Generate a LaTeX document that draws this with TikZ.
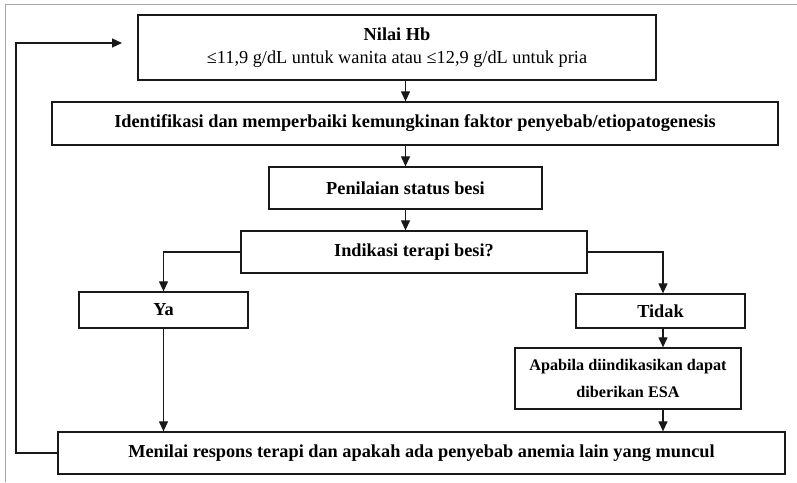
\documentclass[tikz,border=0pt]{standalone}
\usepackage{fontspec}
\setmainfont{Liberation Serif}
\usetikzlibrary{arrows.meta}
\begin{document}
\begin{tikzpicture}[x=1pt,y=-1pt,
  box/.style={draw=black!90, line width=1.3pt, inner sep=0pt, align=center,
    font=\fontsize{18.3}{25}\selectfont\bfseries},
  arr/.style={draw=black!90, line width=1.2pt, -{Triangle[length=10pt,width=9pt]}},
  frameline/.style={draw=black!35, line width=1pt}]
\useasboundingbox (0,0) rectangle (797,482);
\draw[frameline] (5,482) -- (5,4) -- (797,4);
\node[box, minimum width=518pt, minimum height=65pt] (hb) at (397,47.5)
  {Nilai Hb\\[-2pt]\mdseries ≤11,9 g/dL untuk wanita atau ≤12,9 g/dL untuk pria};
\node[box, minimum width=726pt, minimum height=43pt] (ident) at (415,123.5)
  {Identifikasi dan memperbaiki kemungkinan faktor penyebab/etiopatogenesis};
\node[box, minimum width=273pt, minimum height=42pt] (nilai) at (405.5,188)
  {Penilaian status besi};
\node[box, minimum width=346pt, minimum height=42pt] (indik) at (414,252)
  {Indikasi terapi besi?};
\node[box, minimum width=169pt, minimum height=36pt] (ya) at (163.5,310) {Ya};
\node[box, minimum width=169pt, minimum height=34pt] (tidak) at (660.5,311) {Tidak};
\node[box, minimum width=226pt, minimum height=61pt,
  font=\fontsize{16.2}{27}\selectfont\bfseries] (esa) at (628,378.5)
  {Apabila diindikasikan dapat\\diberikan ESA};
\node[box, minimum width=727pt, minimum height=42pt] (menilai) at (421.5,453)
  {Menilai respons terapi dan apakah ada penyebab anemia lain yang muncul};
\coordinate (loopa) at (16,43);
\coordinate (loopend) at (122,43);
\coordinate (rx) at (663,311);
\draw[arr] (hb.south -| nilai) -- (ident.north -| nilai);
\draw[arr] (ident.south -| nilai) -- (nilai.south |- nilai.north);
\draw[arr] (nilai.south) -- (nilai.south |- indik.north);
\draw[arr] (indik.west) -| (ya.north);
\draw[arr] (indik.east) -| (rx |- tidak.north);
\draw[arr] (rx |- tidak.south) -- (rx |- esa.north);
\draw[arr] (rx |- esa.south) -- (rx |- menilai.north);
\draw[arr] (ya.south) -- (ya.south |- menilai.north);
\draw[arr] (menilai.west) -| (loopa) -- (loopend);
\end{tikzpicture}
\end{document}
